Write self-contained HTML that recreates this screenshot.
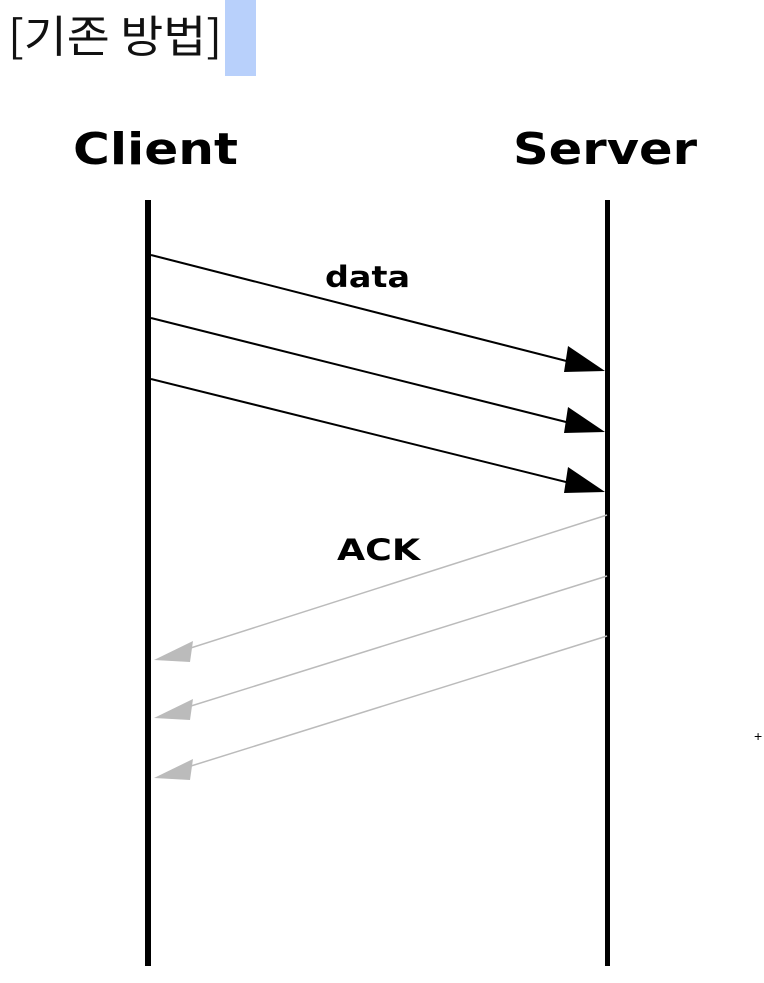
<!DOCTYPE html>
<html><head><style>
body{margin:0;width:764px;height:983px;background:#fff;overflow:hidden;position:relative;font-family:"Liberation Sans","Noto Sans CJK KR",sans-serif}
</style></head><body>
<div style="position:absolute;left:225px;top:0;width:31px;height:76px;background:#b8d0fb"></div>
<svg width="764" height="983" style="position:absolute;left:0;top:0">
<text x="8" y="52" font-size="44" fill="#111" font-family="Noto Sans CJK KR, sans-serif" textLength="214" lengthAdjust="spacingAndGlyphs">[기존 방법]</text>
<g font-family="DejaVu Sans, Liberation Sans, sans-serif" font-weight="bold" fill="#000">
<text x="73" y="164" font-size="44" textLength="165" lengthAdjust="spacingAndGlyphs">Client</text>
<text x="513" y="164" font-size="44" textLength="184" lengthAdjust="spacingAndGlyphs">Server</text>
<text x="325" y="287" font-size="29" textLength="85" lengthAdjust="spacingAndGlyphs">data</text>
<text x="337" y="560" font-size="29" textLength="83" lengthAdjust="spacingAndGlyphs">ACK</text>
</g>
<rect x="145" y="200" width="6" height="766" fill="#000"/>
<rect x="605" y="200" width="5" height="766" fill="#000"/>
<g stroke="#000" stroke-width="2">
<line x1="151" y1="255" x2="590" y2="367"/>
<line x1="151" y1="318" x2="590" y2="428"/>
<line x1="151" y1="379" x2="590" y2="488"/>
</g>
<g fill="#000">
<polygon points="568,346 564,372 605,371"/>
<polygon points="568,407 564,433 605,432"/>
<polygon points="568,467 564,493 605,492"/>
</g>
<g stroke="#bbb" stroke-width="1.5">
<line x1="607" y1="515" x2="175" y2="653"/>
<line x1="607" y1="576" x2="175" y2="711"/>
<line x1="607" y1="636" x2="175" y2="771"/>
</g>
<g fill="#bbb">
<polygon points="154,660 193,641 190,662"/>
<polygon points="154,718 193,699 190,720"/>
<polygon points="154,778 193,759 190,780"/>
</g>
<text x="754" y="741" font-size="14" fill="#000">+</text>
</svg>
</body></html>
